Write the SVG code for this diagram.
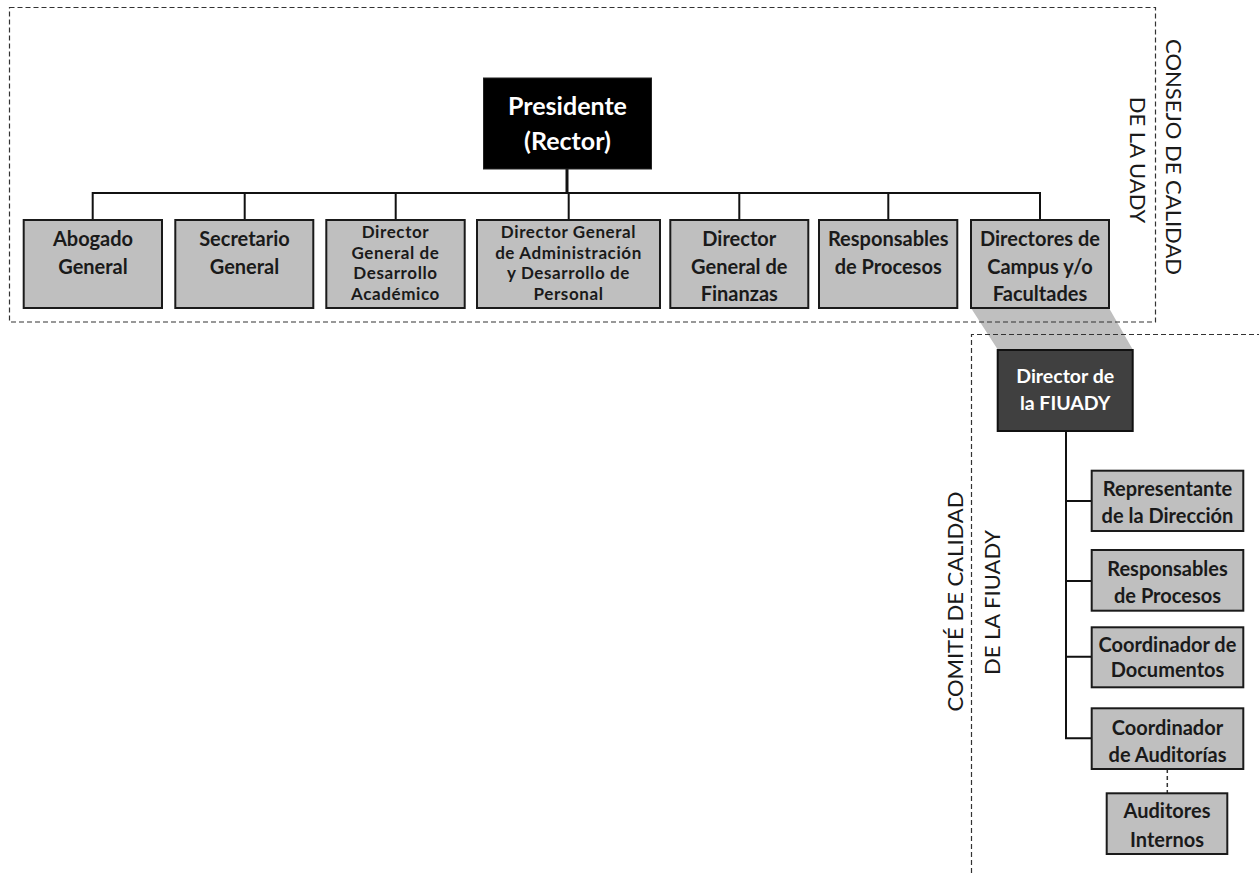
<svg xmlns="http://www.w3.org/2000/svg" width="1259" height="876" viewBox="0 0 1259 876">
<style>
.bx{fill:#bfbfbf;stroke:#1a1a1a;stroke-width:2}
.t{font-family:Lato,"Open Sans",sans-serif;font-weight:bold;font-size:20px;fill:#1a1a1a;text-anchor:middle}
.t4{font-family:Lato,"Open Sans",sans-serif;font-weight:bold;font-size:17px;letter-spacing:0.6px;fill:#1a1a1a;text-anchor:middle}
.tw{font-family:Lato,"Open Sans",sans-serif;font-weight:bold;fill:#fff;text-anchor:middle}
.lab{font-family:Lato,"Open Sans",sans-serif;font-size:22px;fill:#1a1a1a;text-anchor:middle}
.dash{fill:none;stroke:#333;stroke-width:1.2;stroke-dasharray:5 3}
.ln{fill:none;stroke:#111;stroke-width:2}
</style>
<rect width="1259" height="876" fill="#fff"/>
<g id="link-campus-fiuady">
<polygon points="971,308 1109,308 1133,350 998,350" fill="#bfbfbf"/>
</g>
<g id="consejo-frame">
<rect class="dash" x="9.5" y="7.5" width="1146" height="314.5"/>
<text class="lab" transform="translate(1166,157) rotate(90)">CONSEJO DE CALIDAD</text>
<text class="lab" transform="translate(1130,160) rotate(90)">DE LA UADY</text>
</g>
<g id="comite-frame">
<path class="dash" d="M1262,334.5 H971.5 V880"/>
<text class="lab" transform="translate(963,601.5) rotate(-90)">COMITÉ DE CALIDAD</text>
<text class="lab" transform="translate(1000,602.5) rotate(-90)">DE LA FIUADY</text>
</g>
<g id="connectors">
<line x1="567" y1="169" x2="567" y2="193" stroke="#111" stroke-width="3"/>
<path class="ln" d="M92.7,220 V193 H1040 V220"/>
<path class="ln" stroke-width="1.6" d="M244.7,193 V220 M395.7,193 V220 M568.7,193 V220 M739.3,193 V220 M888.3,193 V220"/>
<path class="ln" d="M1066,431 V738.3 H1092 M1066,501 H1092 M1066,581 H1092 M1066,656.7 H1092"/>
<line x1="1167.3" y1="769" x2="1167.3" y2="793" stroke="#333" stroke-width="1.5" stroke-dasharray="4 3"/>
</g>
<g id="presidente">
<rect x="483.5" y="78" width="168" height="91" fill="#000" stroke="#222" stroke-width="1"/>
<text class="tw" font-size="25" x="567.5" y="115">Presidente</text>
<text class="tw" font-size="25" x="567.5" y="150">(Rector)</text>
</g>
<g id="abogado">
<rect class="bx" x="23.7" y="220" width="138.3" height="88"/>
<text class="t" x="93" y="245.7">Abogado</text>
<text class="t" x="93" y="274">General</text>
</g>
<g id="secretario">
<rect class="bx" x="175.3" y="220" width="138" height="88"/>
<text class="t" x="244.5" y="245.7">Secretario</text>
<text class="t" x="244.5" y="274">General</text>
</g>
<g id="dg-academico">
<rect class="bx" x="326.3" y="220" width="138.4" height="88"/>
<text class="t4" x="395.5" y="238">Director</text>
<text class="t4" x="395.5" y="258.5">General de</text>
<text class="t4" x="395.5" y="279">Desarrollo</text>
<text class="t4" x="395.5" y="299.5">Académico</text>
</g>
<g id="dg-administracion">
<rect class="bx" x="477" y="220" width="183" height="88"/>
<text class="t4" x="568.5" y="238">Director General</text>
<text class="t4" x="568.5" y="258.5">de Administración</text>
<text class="t4" x="568.5" y="279">y Desarrollo de</text>
<text class="t4" x="568.5" y="299.5">Personal</text>
</g>
<g id="dg-finanzas">
<rect class="bx" x="670.3" y="220" width="138" height="88"/>
<text class="t" x="739.3" y="245.7">Director</text>
<text class="t" x="739.3" y="274">General de</text>
<text class="t" x="739.3" y="300.7">Finanzas</text>
</g>
<g id="responsables-uady">
<rect class="bx" x="819" y="220" width="138.3" height="88"/>
<text class="t" x="888.2" y="245.7">Responsables</text>
<text class="t" x="888.2" y="274">de Procesos</text>
</g>
<g id="directores-campus">
<rect class="bx" x="971" y="220" width="138" height="88"/>
<text class="t" x="1040" y="245.7">Directores de</text>
<text class="t" x="1040" y="274">Campus y/o</text>
<text class="t" x="1040" y="300.7">Facultades</text>
</g>
<g id="director-fiuady">
<rect x="997.7" y="350" width="135" height="81" fill="#404040" stroke="#111" stroke-width="2"/>
<text class="tw" font-size="19.5" x="1065.2" y="383.3">Director de</text>
<text class="tw" font-size="19.5" x="1065.2" y="410">la FIUADY</text>
</g>
<g id="representante">
<rect class="bx" x="1091.7" y="470.7" width="151.6" height="60.3"/>
<text class="t" x="1167.5" y="496">Representante</text>
<text class="t" x="1167.5" y="522.7">de la Dirección</text>
</g>
<g id="responsables-fiuady">
<rect class="bx" x="1091.7" y="550" width="151.6" height="60.7"/>
<text class="t" x="1167.5" y="576">Responsables</text>
<text class="t" x="1167.5" y="603.3">de Procesos</text>
</g>
<g id="coord-documentos">
<rect class="bx" x="1091.7" y="627.3" width="151.6" height="60"/>
<text class="t" x="1167.5" y="651.7">Coordinador de</text>
<text class="t" x="1167.5" y="676.7">Documentos</text>
</g>
<g id="coord-auditorias">
<rect class="bx" x="1091.7" y="708.3" width="151.6" height="60.7"/>
<text class="t" x="1167.5" y="735">Coordinador</text>
<text class="t" x="1167.5" y="761.7">de Auditorías</text>
</g>
<g id="auditores">
<rect class="bx" x="1106.7" y="793.3" width="120.6" height="60.7"/>
<text class="t" x="1167" y="818.3">Auditores</text>
<text class="t" x="1167" y="846.7">Internos</text>
</g>
</svg>
